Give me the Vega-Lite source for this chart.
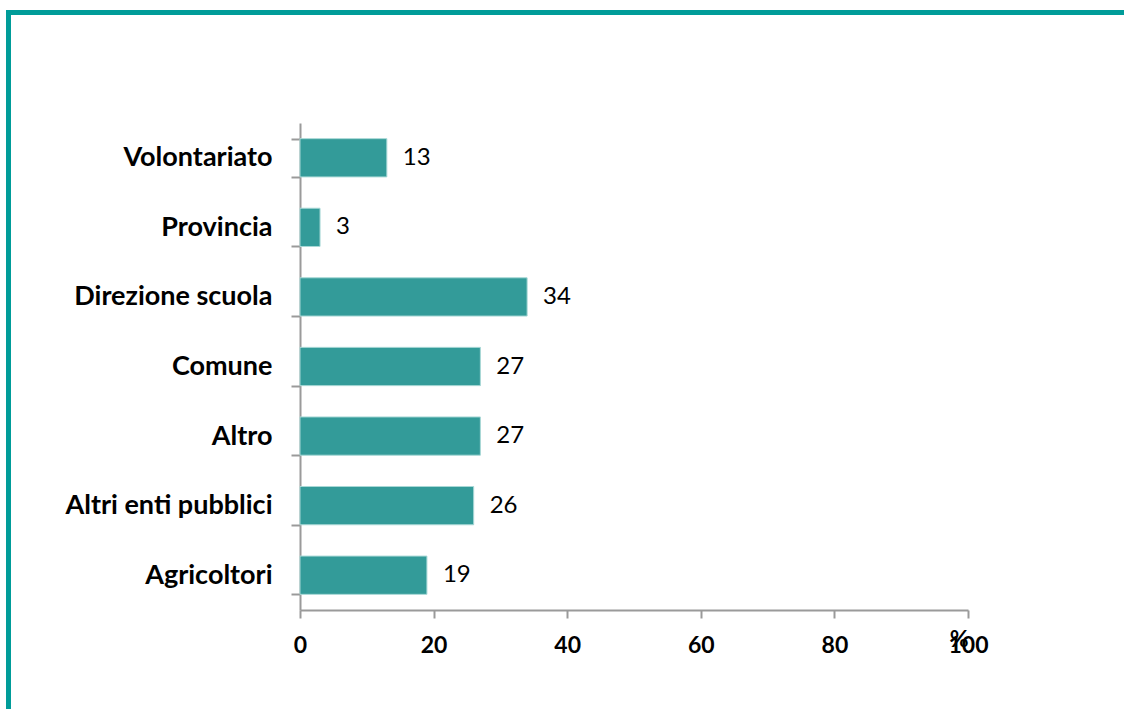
{
  "$schema": "https://vega.github.io/schema/vega-lite/v6.json",
  "width": 668,
  "height": 487,
  "autosize": {"type": "none"},
  "padding": {"left": 300, "top": 123, "right": 156, "bottom": 99},
  "background": "white",
  "config": {"view": {"stroke": null}, "font": "Lato"},
  "data": {"values": [
    {"ente": "Volontariato", "pct": 13},
    {"ente": "Provincia", "pct": 3},
    {"ente": "Direzione scuola", "pct": 34},
    {"ente": "Comune", "pct": 27},
    {"ente": "Altro", "pct": 27},
    {"ente": "Altri enti pubblici", "pct": 26},
    {"ente": "Agricoltori", "pct": 19}
  ]},
  "layer": [
    {
      "mark": {"type": "rect", "x": -291.5, "y": -110.5, "x2": 830, "y2": 600, "fill": null, "stroke": "#009C99", "strokeWidth": 5},
      "encoding": {}
    },
    {
      "mark": {"type": "bar", "color": "#339B99", "stroke": "#a8d8d6", "strokeWidth": 1},
      "encoding": {
        "y": {"field": "ente", "type": "nominal", "sort": null,
              "scale": {"paddingInner": 0.45, "paddingOuter": 0.225},
              "axis": {"title": null, "tickBand": "extent", "domainColor": "#9a9a9a", "domainWidth": 2,
                       "tickColor": "#9a9a9a", "tickWidth": 2, "tickSize": 9, "labelPadding": 19, "labelLimit": 400,
                       "labelFont": "Lato", "labelFontSize": 27, "labelFontWeight": "bold", "labelColor": "#000000"}},
        "x": {"field": "pct", "type": "quantitative",
              "scale": {"domain": [0, 100], "nice": false},
              "axis": {"title": "%", "values": [0, 20, 40, 60, 80, 100], "grid": false,
                       "domainColor": "#9a9a9a", "domainWidth": 2, "tickColor": "#9a9a9a", "tickWidth": 2, "tickSize": 8,
                       "labelPadding": 16, "labelFont": "Lato", "labelFontSize": 23, "labelFontWeight": "bold", "labelColor": "#000000",
                       "labelFlush": false,
                       "titleFont": "Lato", "titleFontSize": 23, "titleFontWeight": "bold", "titleColor": "#000000",
                       "titleAnchor": "end", "titleAlign": "right", "titleX": 668, "titleY": 36, "titleBaseline": "alphabetic"}}
      }
    },
    {
      "mark": {"type": "text", "align": "left", "baseline": "middle", "dx": 16, "font": "Lato", "fontSize": 24, "color": "#000000"},
      "encoding": {
        "y": {"field": "ente", "type": "nominal", "sort": null},
        "x": {"field": "pct", "type": "quantitative"},
        "text": {"field": "pct", "type": "quantitative"}
      }
    }
  ]
}
